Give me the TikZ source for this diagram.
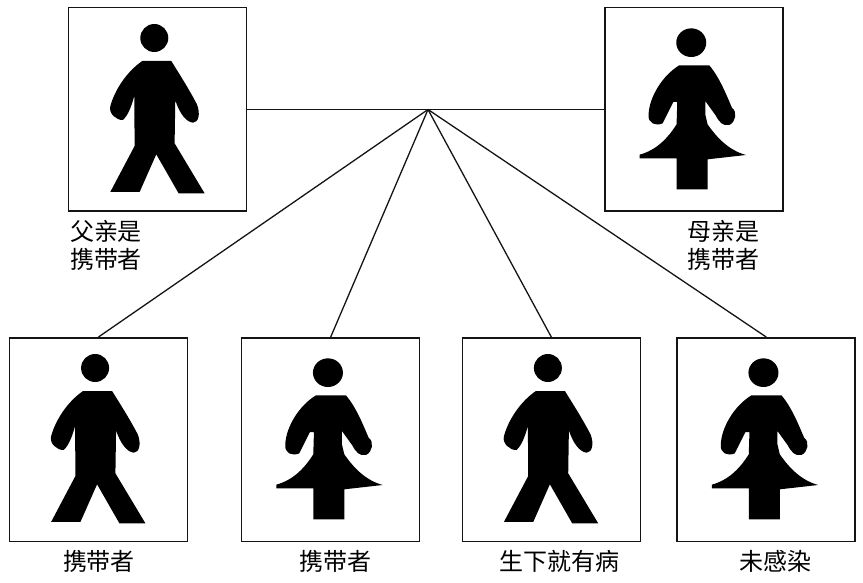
\documentclass[tikz,border=0pt]{standalone}
\usepackage{fontspec}
\setmainfont{Noto Sans CJK SC}
\usetikzlibrary{positioning}
\definecolor{inkgray}{RGB}{20,20,20}

\tikzset{
    personbox/.style={rectangle, draw=inkgray, line width=1.5pt, fill=white, inner sep=0pt, minimum width=178pt, minimum height=203.5pt},
    tag/.style={font=\fontsize{24}{28}\selectfont, align=center, inner sep=0pt, text=black},
    link/.style={draw=inkgray, line width=1.3pt},
    pics/manfig/.style={code={
        \fill[black] (259,93) circle [radius=42];
        \fill[black] (223,162) -- (310,162)
            .. controls (340,210) and (365,250) .. (387,292)
            .. controls (398,320) and (392,347) .. (375,347)
            .. controls (355,345) and (335,320) .. (322,280)
            -- (320,409) -- (410,559) -- (332,559) -- (265,442) -- (215,555) -- (127,555)
            -- (200,417) -- (199,267)
            .. controls (190,300) and (180,325) .. (165,339)
            .. controls (145,340) and (122,320) .. (127,298)
            .. controls (140,250) and (175,195) .. (223,162) -- cycle;
    }},
    pics/womanfig/.style={code={
        \fill[black] (261,107) ellipse [x radius=45, y radius=43];
        \fill[black] (225,175) -- (315,175)
            .. controls (345,210) and (365,260) .. (383,302)
            .. controls (400,315) and (395,345) .. (375,354)
            .. controls (355,358) and (345,345) .. (334,325)
            -- (303,282) -- (303,322) -- (310,352)
            .. controls (340,395) and (375,430) .. (425,444)
            -- (310,457) -- (310,547) -- (217,547) -- (217,454) -- (106,454) -- (106,443)
            .. controls (155,430) and (190,395) .. (217,352)
            -- (219,285) -- (207,285) -- (175,349)
            .. controls (155,358) and (130,350) .. (133,322)
            .. controls (135,270) and (175,205) .. (225,175) -- cycle;
    }}
}

\begin{document}
\begin{tikzpicture}[x=1pt, y=-1pt]
    \useasboundingbox (0,0) rectangle (863,583);

    \node[personbox] (father) at (157.7,109.5) {};
    \node[personbox] (mother) at (694,109.5) {};
    \node[personbox] (kidone) at (98.5,439.5) {};
    \node[personbox] (kidtwo) at (330.7,439.5) {};
    \node[personbox] (kidthree) at (551.3,439.5) {};
    \node[personbox] (kidfour) at (766.2,439.5) {};

    \pic[scale=1/3] at (father.north west) {manfig};
    \pic[scale=1/3] at (mother.north west) {womanfig};
    \pic[scale=1/3] at (kidone.north west) {manfig};
    \pic[scale=1/3] at (kidtwo.north west) {womanfig};
    \pic[scale=1/3] at (kidthree.north west) {manfig};
    \pic[scale=1/3] at (kidfour.north west) {womanfig};

    \coordinate (hub) at (428,109.5);
    \draw[link] (father.east) -- (hub) -- (mother.west);
    \draw[link] (hub) -- (kidone.north);
    \draw[link] (hub) -- (kidtwo.north);
    \draw[link] (hub) -- (kidthree.north);
    \draw[link] (hub) -- (kidfour.north);

    \node[tag] (fathertag) at (106,245) {父亲是\\携带者};
    \node[tag] (mothertag) at (723,245) {母亲是\\携带者};
    \node[tag] (kidonetag) at (99,561) {携带者};
    \node[tag] (kidtwotag) at (335,561) {携带者};
    \node[tag] (kidthreetag) at (559,561) {生下就有病};
    \node[tag] (kidfourtag) at (775,561) {未感染};
\end{tikzpicture}
\end{document}
